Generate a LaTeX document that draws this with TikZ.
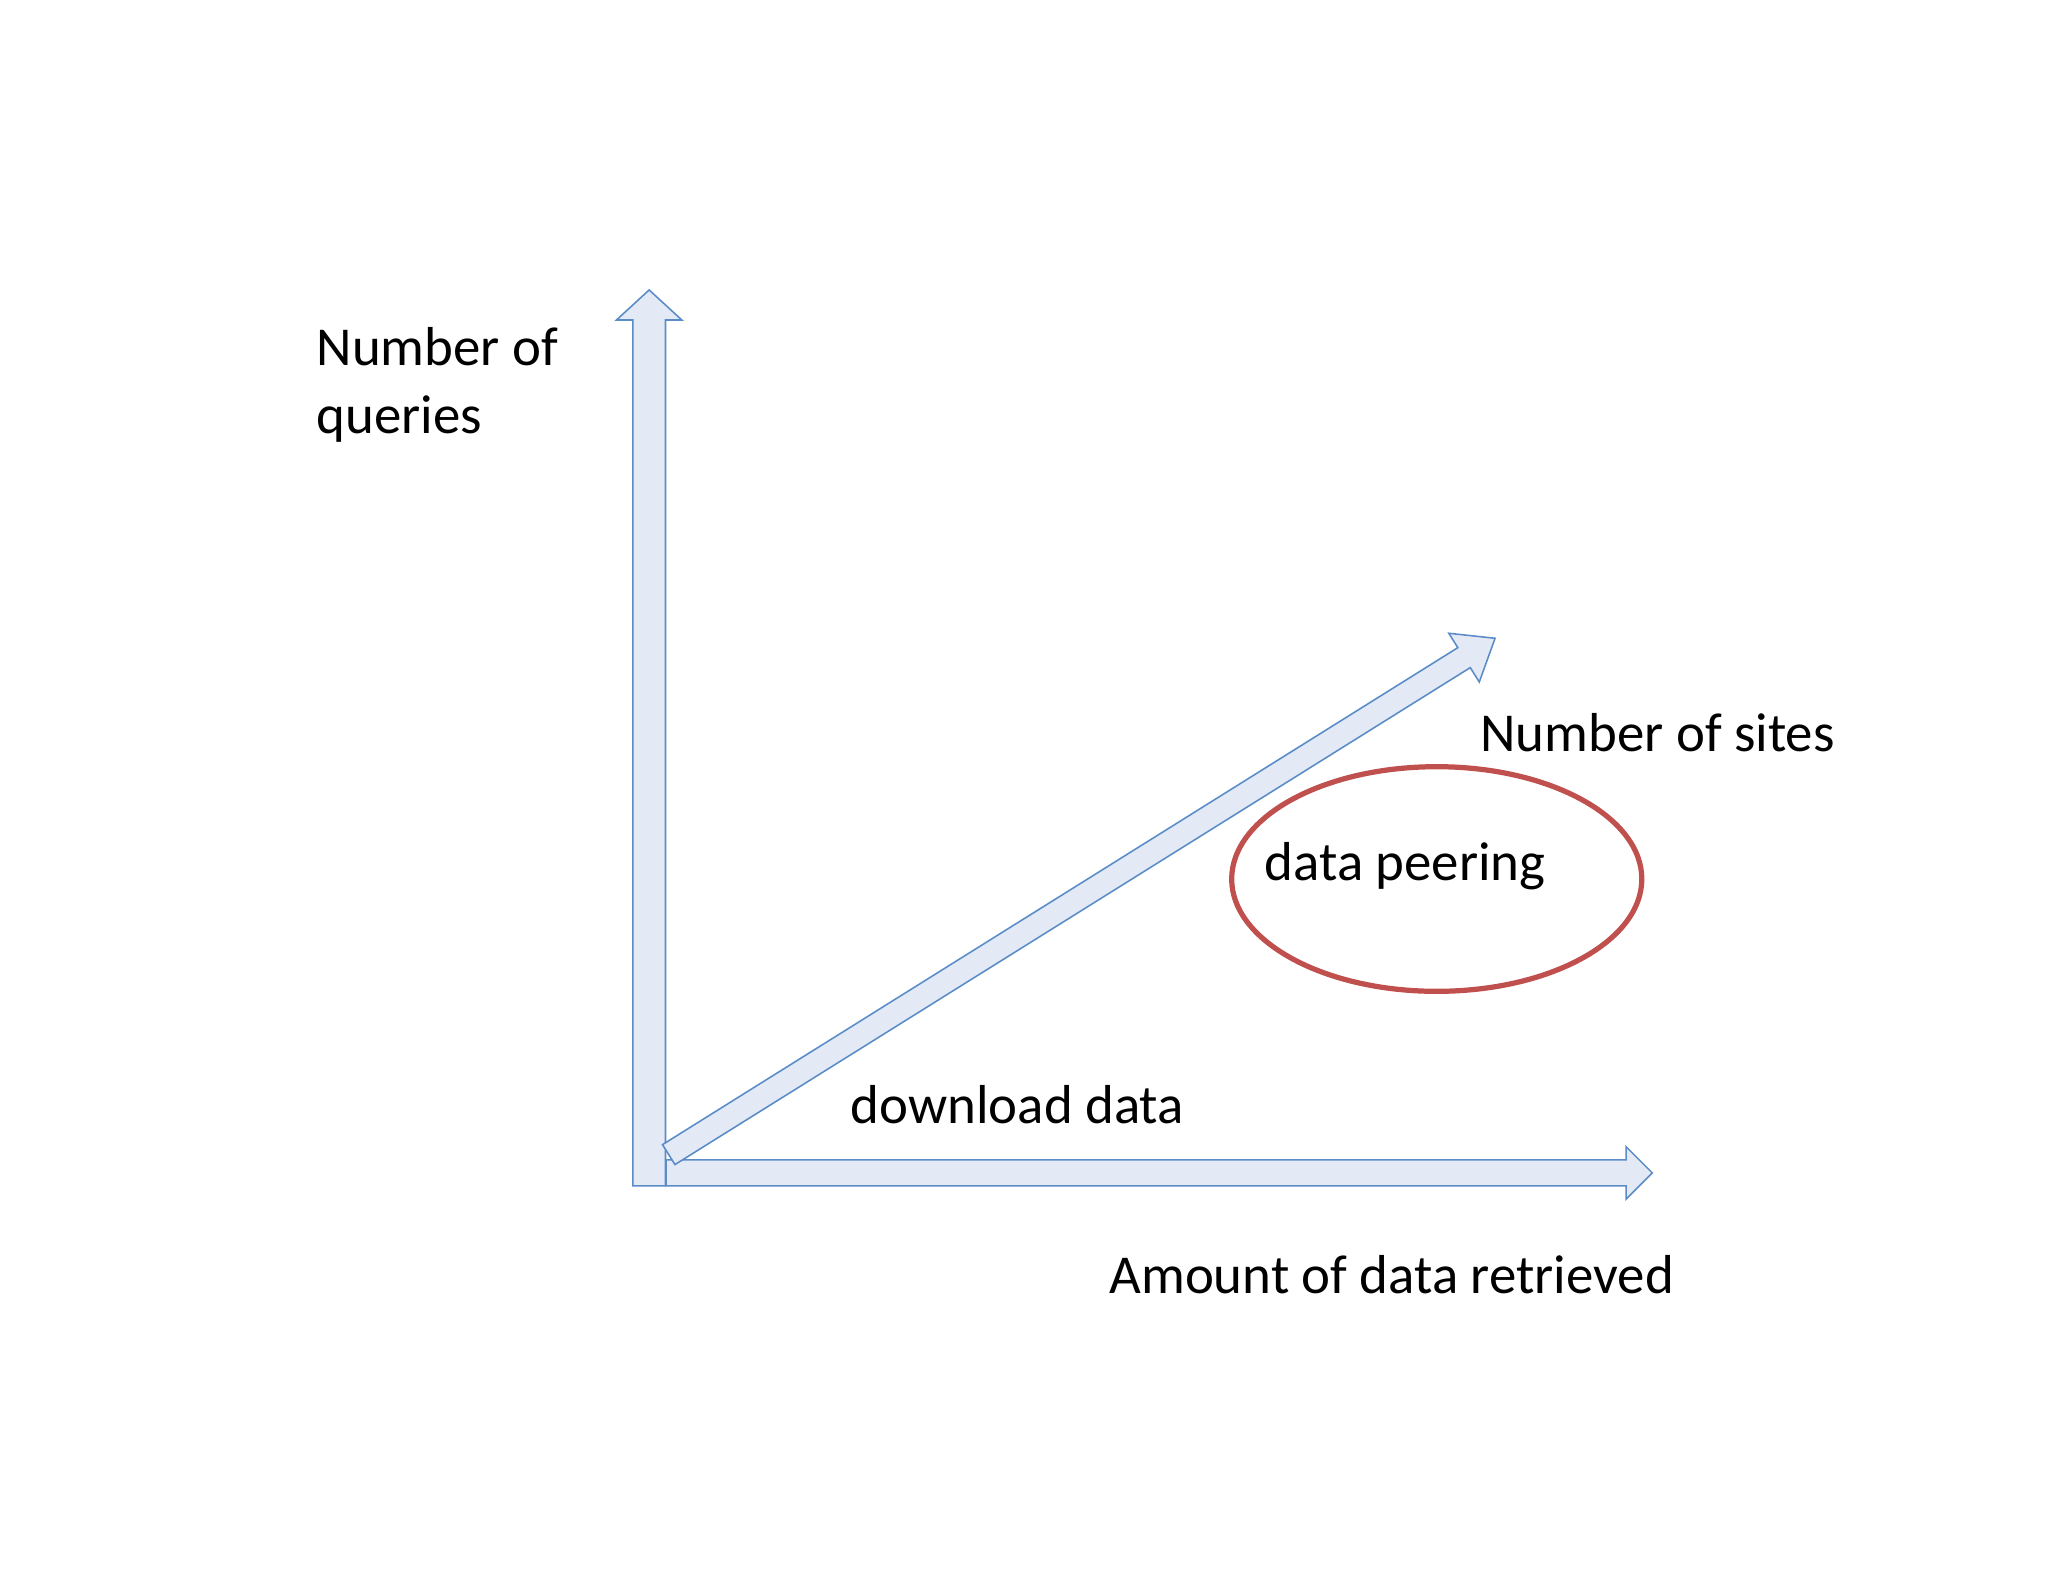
\documentclass[tikz,border=0pt]{standalone}
\usepackage{fontspec}
\setmainfont{Carlito}
\usetikzlibrary{shapes.geometric}
\definecolor{afill}{HTML}{E3EAF6}
\definecolor{aline}{HTML}{5B8CC8}
\definecolor{ered}{HTML}{C0504D}
\begin{document}
\begin{tikzpicture}[x=0.5pt,y=0.5pt,
  arr/.style={fill=afill,draw=aline,line width=0.6pt,line join=miter},
  lbl/.style={font=\fontsize{21}{26}\selectfont,inner sep=0pt,anchor=west,align=left}]
\useasboundingbox[fill=white] (0,0) rectangle (1568,1211);
% vertical arrow
\begin{scope}[shift={(497,303)},rotate=90]
\draw[arr] (0,-12.5)--(663,-12.5)--(663,-25)--(686,0)--(663,25)--(663,12.5)--(0,12.5)--cycle;
\end{scope}
% horizontal arrow
\begin{scope}[shift={(510,313)}]
\draw[arr] (0,-10)--(735,-10)--(735,-20)--(755,0)--(735,20)--(735,10)--(0,10)--cycle;
\end{scope}
% diagonal arrow
\begin{scope}[shift={(512,327)},rotate=32.0]
\draw[arr] (0,-9)--(718,-9)--(718,-22)--(746,0)--(718,22)--(718,9)--(0,9)--cycle;
\end{scope}
\node[draw=ered,line width=2pt,ellipse,minimum width=157pt,minimum height=86pt] (ell) at (1100,538) {};
\node[lbl] (nq) at (242,916) {Number of\\queries};
\node[lbl] (ns) at (1133,650) {Number of sites};
\node[lbl] (dp) at (968,548) {data peering};
\node[lbl] (dd) at (651,365) {download data};
\node[lbl] (ad) at (849,235) {Amount of data retrieved};
\end{tikzpicture}
\end{document}
